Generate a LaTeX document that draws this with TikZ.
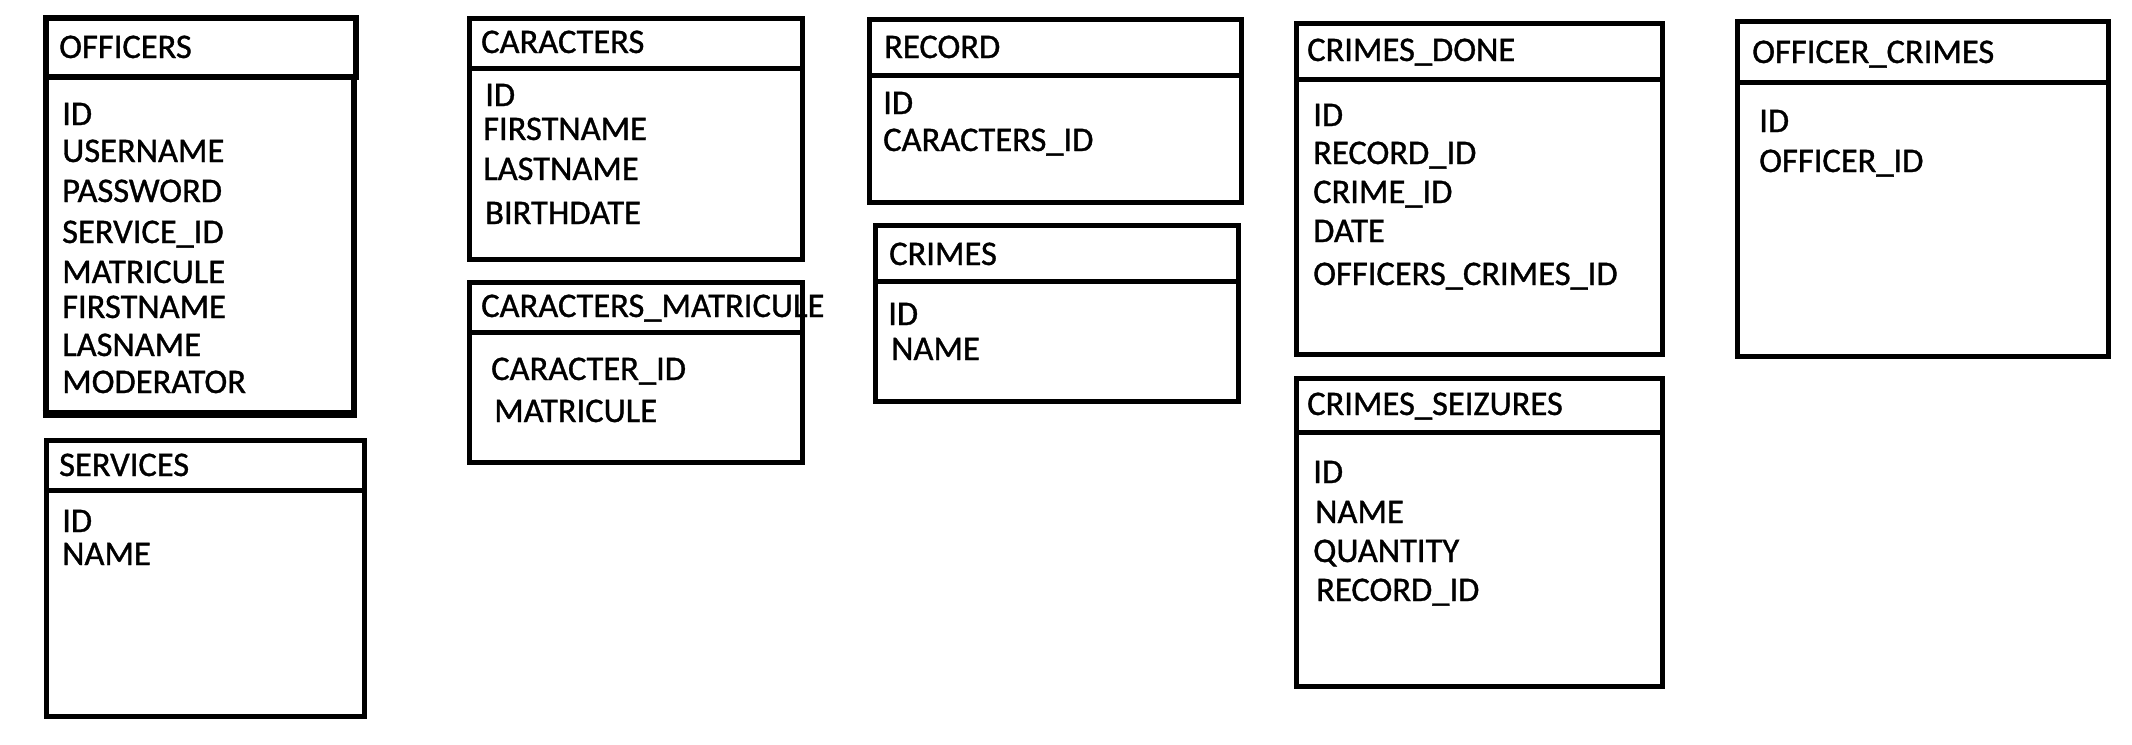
\documentclass[tikz,border=0pt]{standalone}
\usepackage{fontspec}
\setmainfont{Carlito}[FakeBold=1]
\begin{document}
\begin{tikzpicture}[x=1pt,y=-1pt,
  box/.style={line width=5pt},
  thickbox/.style={line width=6pt},
  txt/.style={anchor=base west, inner sep=0pt, font=\fontsize{34.5}{40}\selectfont}]
\useasboundingbox[fill=white] (0,0) rectangle (2132,744);

% ---------- texts ----------
% OFFICERS
\node[txt] (offT) at (59,58) {OFFICERS};
\node[txt] (off1) at (62,125) {ID};
\node[txt] (off2) at (62,162) {USERNAME};
\node[txt] (off3) at (62,202) {PASSWORD};
\node[txt] (off4) at (62,243) {SERVICE\_ID};
\node[txt] (off5) at (62,283) {MATRICULE};
\node[txt] (off6) at (62,318) {FIRSTNAME};
\node[txt] (off7) at (62,356) {LASNAME};
\node[txt] (off8) at (62,393) {MODERATOR};
% SERVICES
\node[txt] (serT) at (59,476) {SERVICES};
\node[txt] (ser1) at (62,532) {ID};
\node[txt] (ser2) at (62,565) {NAME};
% CARACTERS
\node[txt] (carT) at (481,53) {CARACTERS};
\node[txt] (car1) at (485,106) {ID};
\node[txt] (car2) at (483,140) {FIRSTNAME};
\node[txt] (car3) at (483,180) {LASTNAME};
\node[txt] (car4) at (485,224) {BIRTHDATE};
% CARACTERS_MATRICULE
\node[txt] (cmT) at (481,317) {CARACTERS\_MATRICULE};
\node[txt] (cm1) at (491,380) {CARACTER\_ID};
\node[txt] (cm2) at (494,422) {MATRICULE};
% RECORD
\node[txt] (recT) at (884,58) {RECORD};
\node[txt] (rec1) at (883,114) {ID};
\node[txt] (rec2) at (883,151) {CARACTERS\_ID};
% CRIMES
\node[txt] (criT) at (889,265) {CRIMES};
\node[txt] (cri1) at (888,325) {ID};
\node[txt] (cri2) at (891,360) {NAME};
% CRIMES_DONE
\node[txt] (cdT) at (1307,61) {CRIMES\_DONE};
\node[txt] (cd1) at (1313,126) {ID};
\node[txt] (cd2) at (1313,164) {RECORD\_ID};
\node[txt] (cd3) at (1313,203) {CRIME\_ID};
\node[txt] (cd4) at (1313,242) {DATE};
\node[txt] (cd5) at (1313,285) {OFFICERS\_CRIMES\_ID};
% CRIMES_SEIZURES
\node[txt] (csT) at (1307,415) {CRIMES\_SEIZURES};
\node[txt] (cs1) at (1313,483) {ID};
\node[txt] (cs2) at (1315,523) {NAME};
\node[txt] (cs3) at (1313,562) {QUANTITY};
\node[txt] (cs4) at (1316,601) {RECORD\_ID};
% OFFICER_CRIMES
\node[txt] (ocT) at (1752,63) {OFFICER\_CRIMES};
\node[txt] (oc1) at (1759,132) {ID};
\node[txt] (oc2) at (1759,172) {OFFICER\_ID};

% ---------- boxes ----------
% OFFICERS
\draw[thickbox] (45.5,17.5) rectangle (356,77);
\draw[thickbox] (45.5,77) rectangle (353.5,413);
\draw[line width=8pt] (42.5,414) -- (356.5,414);
% SERVICES
\draw[box] (46,440) rectangle (364,716);
\draw[box] (46,490) -- (364,490);
% CARACTERS
\draw[box] (469,18) rectangle (802,259);
\draw[box] (469,68) -- (802,68);
% CARACTERS_MATRICULE
\draw[box] (469,282) rectangle (802,462);
\draw[box] (469,332) -- (802,332);
% RECORD
\draw[box] (869,19) rectangle (1241,202);
\draw[box] (869,75) -- (1241,75);
% CRIMES
\draw[box] (875,225) rectangle (1238,401);
\draw[box] (875,281) -- (1238,281);
% CRIMES_DONE
\draw[box] (1296,23) rectangle (1662,354);
\draw[box] (1296,79) -- (1662,79);
% CRIMES_SEIZURES
\draw[box] (1296,378) rectangle (1662,686);
\draw[box] (1296,432) -- (1662,432);
% OFFICER_CRIMES
\draw[box] (1737,21) rectangle (2108,356);
\draw[box] (1737,82) -- (2108,82);
\end{tikzpicture}
\end{document}
